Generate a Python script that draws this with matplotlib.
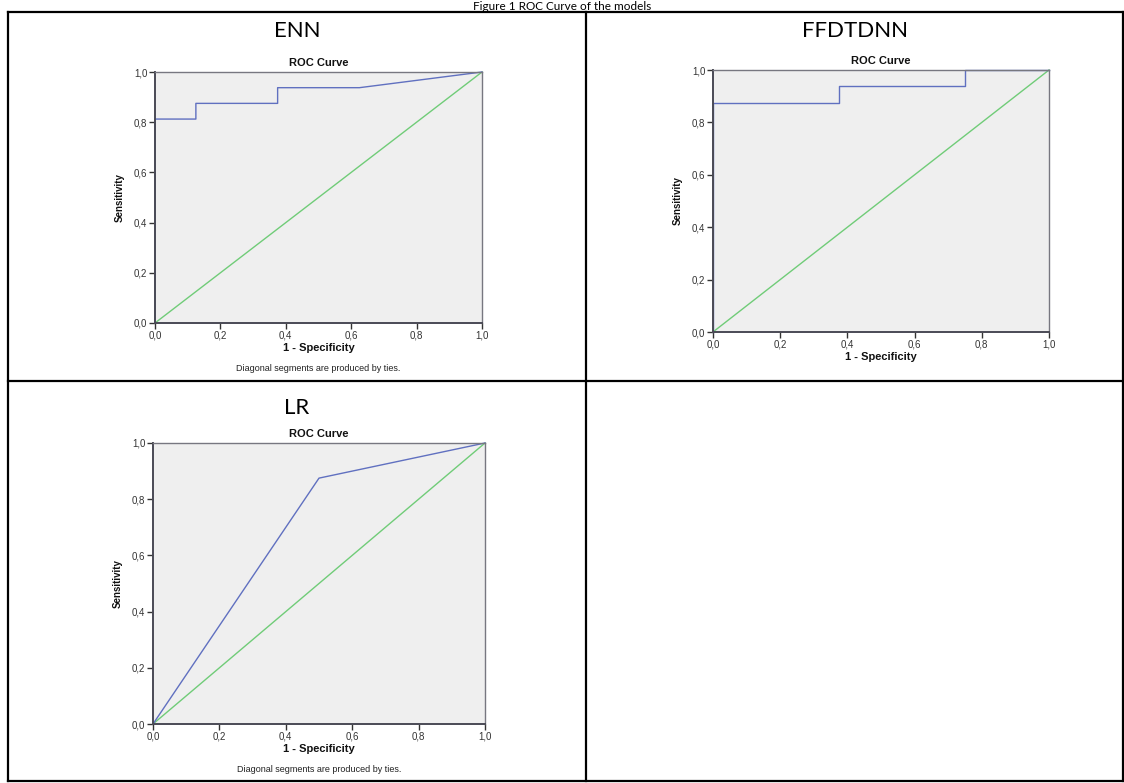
import matplotlib
matplotlib.use("Agg")
import matplotlib.pyplot as plt
from matplotlib.lines import Line2D
from matplotlib.ticker import FuncFormatter

W, H = 1124, 783
DPI = 100

# ---- data ----
enn_fpr = [0.0, 0.0, 0.125, 0.125, 0.375, 0.375, 0.625, 1.0]
enn_tpr = [0.0, 0.8125, 0.8125, 0.875, 0.875, 0.9375, 0.9375, 1.0]
ffd_fpr = [0.0, 0.0, 0.375, 0.375, 0.75, 0.75, 1.0]
ffd_tpr = [0.0, 0.875, 0.875, 0.9375, 0.9375, 1.0, 1.0]
lr_fpr = [0.0, 0.5, 1.0]
lr_tpr = [0.0, 0.875, 1.0]
ref_line = [0.0, 1.0]
ticks = [0.0, 0.2, 0.4, 0.6, 0.8, 1.0]
model_names = ["ENN", "FFDTDNN", "LR"]
fig_title = "Figure 1 ROC Curve of the models"
footnote = "Diagonal segments are produced by ties."

BLUE = "#6070c0"
GREEN = "#70cc78"
BG = "#efefef"

fig = plt.figure(figsize=(W / DPI, H / DPI), dpi=DPI)


def fx(px):
    return px / W


def fy(py):
    return 1 - py / H


def add_ax(left, right, top, bottom):
    return fig.add_axes([fx(left), fy(bottom), fx(right - left), (bottom - top) / H])


fmt = FuncFormatter(lambda v, p: f"{v:.1f}".replace(".", ","))


def style(ax):
    ax.set_facecolor(BG)
    ax.set_xlim(0, 1)
    ax.set_ylim(0, 1)
    ax.set_xticks(ticks)
    ax.set_yticks(ticks)
    ax.xaxis.set_major_formatter(fmt)
    ax.yaxis.set_major_formatter(fmt)
    ax.tick_params(direction="out", length=4, width=1, colors="#333333",
                   labelsize=7, pad=1.5)
    for lab in ax.get_xticklabels() + ax.get_yticklabels():
        lab.set_fontfamily("Liberation Sans")
        lab.set_color("#333333")
    for s in ["left", "bottom"]:
        ax.spines[s].set_color("#4a4a55")
        ax.spines[s].set_linewidth(1.4)
    for s in ["top", "right"]:
        ax.spines[s].set_color("#777780")
        ax.spines[s].set_linewidth(1.0)


panels = [
    (model_names[0], enn_fpr, enn_tpr, (155, 482, 72, 323), True),
    (model_names[1], ffd_fpr, ffd_tpr, (713, 1049, 70, 332), False),
    (model_names[2], lr_fpr, lr_tpr, (153, 485, 443, 724), True),
]

for name, xs, ys, (l, r, t, b), note in panels:
    ax = add_ax(l, r, t, b)
    style(ax)
    ax.plot(ref_line, ref_line, color=GREEN, lw=1.0, clip_on=False)
    ax.plot(xs, ys, color=BLUE, lw=1.0, clip_on=False)
    cx = (l + r) / 2
    fig.text(fx(cx), fy(t - 9), "ROC Curve", ha="center", va="center",
             fontsize=8, fontweight="bold", family="Liberation Sans", color="#111111")
    fig.text(fx(l - 35), fy((t + b) / 2), "Sensitivity", ha="center", va="center",
             rotation=90, fontsize=7, fontweight="bold", family="Liberation Sans",
             color="#111111")
    fig.text(fx(cx), fy(b + 25), "1 - Specificity", ha="center", va="center",
             fontsize=8, fontweight="bold", family="Liberation Sans", color="#111111")
    if note:
        fig.text(fx(cx), fy(b + 45), footnote, ha="center", va="center",
                 fontsize=6.5, family="Liberation Sans", color="#222222")

# model headers
for label, (x, y) in zip(model_names, [(297, 31), (855, 31), (297, 408)]):
    fig.text(fx(x), fy(y), label, ha="center", va="center", fontsize=16,
             family="Lato", fontweight="normal", color="#000000")

# figure title at the top edge
fig.text(fx(562), fy(0.5), fig_title, ha="center", va="top", fontsize=8.5,
         family="Lato", fontweight="normal", color="#000000")

# table borders
lines = [
    ((8, 1123), (12, 12)),
    ((8, 1123), (781, 781)),
    ((8, 8), (12, 781)),
    ((1123, 1123), (12, 781)),
    ((586, 586), (12, 781)),
    ((8, 1123), (381, 381)),
]
for xs, ys in lines:
    fig.add_artist(Line2D([fx(x) for x in xs], [fy(y) for y in ys],
                          color="black", lw=1.6, solid_capstyle="projecting"))

fig.savefig("out.png", dpi=DPI)
